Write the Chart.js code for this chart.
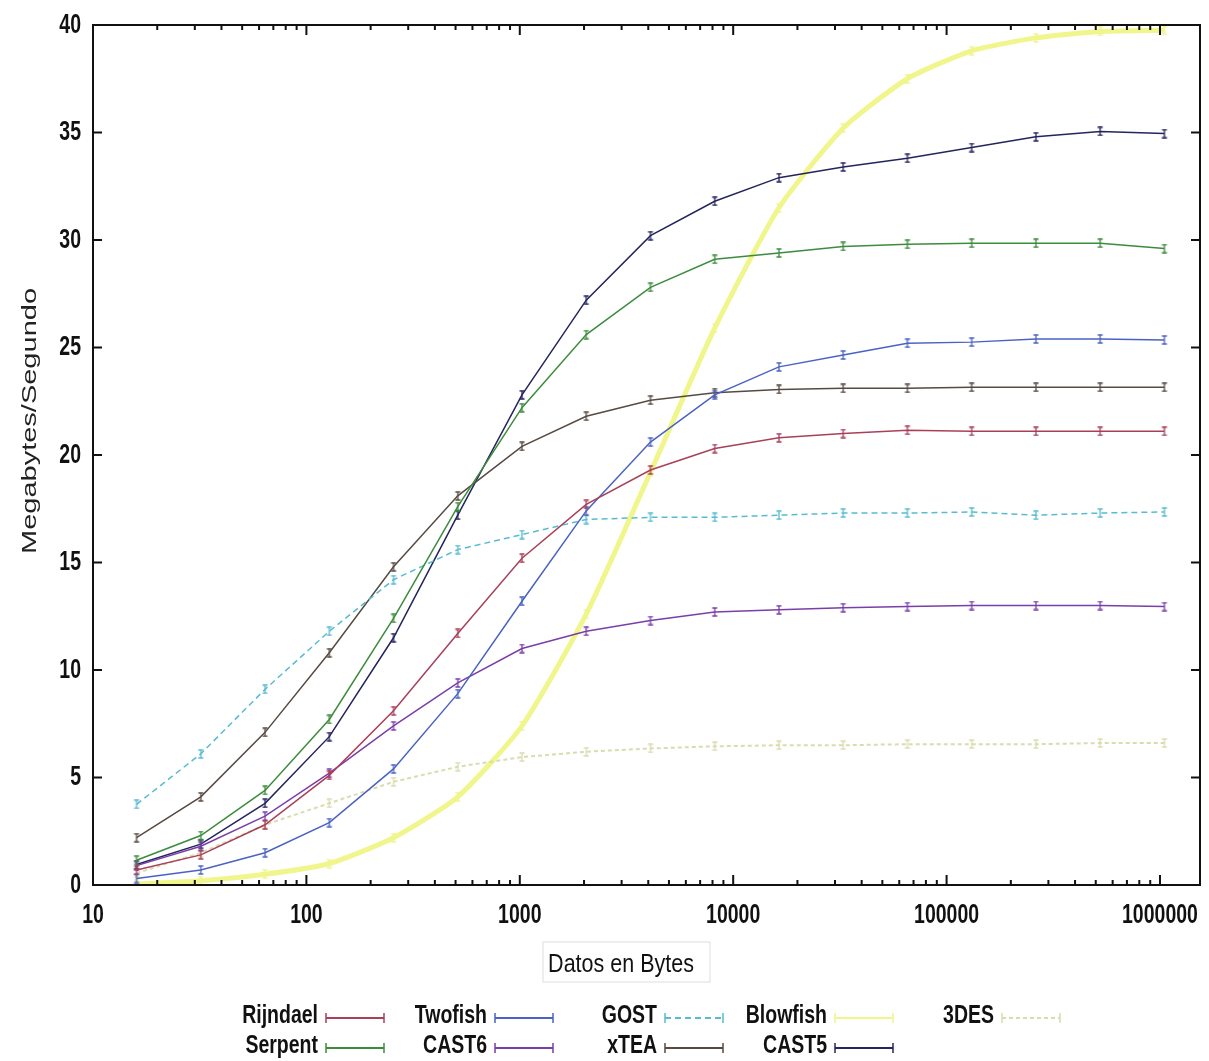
<!DOCTYPE html>
<html>
<head>
<meta charset="utf-8">
<script src="https://cdn.jsdelivr.net/npm/chart.js@4/dist/chart.umd.min.js"></script>
<style>
  html, body { margin: 0; padding: 0; background: #fff; }
  #chart { display: block; }
</style>
</head>
<body>
<canvas id="chart" width="1209" height="1061"></canvas>
<script>
// tamaño de los datos (bytes) y throughput en MB/s
var sizes = [16, 32, 64, 128, 256, 512, 1024, 2048, 4096, 8192, 16384, 32768, 65536, 131072, 262144, 524288, 1048576];
var xTicks = [10, 100, 1000, 10000, 100000, 1000000];

var rijndael = [0.7, 1.4, 2.8, 5.1, 8.1, 11.7, 15.2, 17.7, 19.3, 20.3, 20.8, 21.0, 21.15, 21.1, 21.1, 21.1, 21.1];
var serpent  = [1.15, 2.3, 4.4, 7.7, 12.4, 17.6, 22.2, 25.6, 27.8, 29.1, 29.4, 29.7, 29.8, 29.85, 29.85, 29.85, 29.6];
var twofish  = [0.3, 0.7, 1.5, 2.9, 5.4, 8.9, 13.2, 17.4, 20.6, 22.8, 24.1, 24.65, 25.2, 25.25, 25.4, 25.4, 25.35];
var cast6    = [0.9, 1.8, 3.2, 5.2, 7.4, 9.4, 11.0, 11.8, 12.3, 12.7, 12.8, 12.9, 12.95, 13.0, 13.0, 13.0, 12.95];
var gost     = [3.75, 6.1, 9.1, 11.8, 14.2, 15.6, 16.3, 17.0, 17.1, 17.1, 17.2, 17.3, 17.3, 17.35, 17.2, 17.3, 17.35];
var xtea     = [2.2, 4.1, 7.1, 10.8, 14.8, 18.1, 20.4, 21.8, 22.55, 22.9, 23.05, 23.1, 23.1, 23.15, 23.15, 23.15, 23.15];
var blowfish = [0.05, 0.2, 0.5, 1.0, 2.2, 4.1, 7.4, 12.6, 19.2, 25.9, 31.5, 35.2, 37.5, 38.8, 39.4, 39.7, 39.75];
var cast5    = [0.95, 1.9, 3.8, 6.9, 11.5, 17.2, 22.8, 27.2, 30.2, 31.8, 32.9, 33.4, 33.8, 34.3, 34.8, 35.05, 34.95];
var des3     = [0.55, 1.5, 2.8, 3.8, 4.8, 5.5, 5.95, 6.2, 6.35, 6.45, 6.5, 6.5, 6.55, 6.55, 6.55, 6.6, 6.6];

var SANS = "'Liberation Sans', Arial, sans-serif";

// marcador tipo barra de error "I"
function errGlyph(color){
  var c = document.createElement('canvas');
  c.width = 8; c.height = 10;
  var g = c.getContext('2d');
  g.strokeStyle = color;
  g.lineWidth = 1.3;
  g.beginPath();
  g.moveTo(4, 1); g.lineTo(4, 9);
  g.moveTo(1.5, 1); g.lineTo(6.5, 1);
  g.moveTo(1.5, 9); g.lineTo(6.5, 9);
  g.stroke();
  return c;
}

function serie(label, values, color, width, dash, order, tension){
  return {
    label: label,
    data: values.map(function(v, i){ return {x: sizes[i], y: v}; }),
    borderColor: color,
    backgroundColor: color,
    borderWidth: width,
    borderDash: dash,
    pointStyle: errGlyph(color),
    pointRadius: 4,
    tension: tension || 0,
    fill: false,
    order: order || 0
  };
}

var datasets = [
  serie('Rijndael', rijndael, '#a8405a', 1.5, []),
  serie('Serpent', serpent, '#3c8c3c', 1.5, []),
  serie('Twofish', twofish, '#4a62c4', 1.5, []),
  serie('CAST6', cast6, '#7a3ea8', 1.5, []),
  serie('GOST', gost, '#58bcd0', 1.5, [6, 4]),
  serie('xTEA', xtea, '#574a42', 1.5, []),
  serie('Blowfish', blowfish, '#f0f58c', 5, [], 2, 0.2),
  serie('CAST5', cast5, '#24245e', 1.5, []),
  serie('3DES', des3, '#dadcae', 2, [4, 3], 1)
];

// texto estirado en vertical como en la imagen original
function stretchedText(ctx, text, x, y, sy){
  ctx.save();
  ctx.translate(x, y);
  ctx.scale(1, sy);
  ctx.fillText(text, 0, 0);
  ctx.restore();
}

// marco, ticks hacia dentro, etiquetas, titulos y leyenda estilo gnuplot
var gnuplotFrame = {
  id: 'gnuplotFrame',
  afterDraw: function(chart){
    var ctx = chart.ctx, a = chart.chartArea;
    var xs = chart.scales.x, ys = chart.scales.y;
    ctx.save();
    ctx.strokeStyle = '#111';
    ctx.lineWidth = 2;
    ctx.strokeRect(a.left, a.top, a.right - a.left, a.bottom - a.top);

    ctx.beginPath();
    ys.ticks.forEach(function(t){
      var py = ys.getPixelForValue(t.value);
      ctx.moveTo(a.left, py); ctx.lineTo(a.left + 9, py);
      ctx.moveTo(a.right, py); ctx.lineTo(a.right - 9, py);
    });
    for (var d = 10; d <= 1000000; d *= 10) {
      for (var m = 1; m <= 9; m++) {
        var val = d * m;
        if (val > xs.max) break;
        var px = xs.getPixelForValue(val);
        var len = (m === 1) ? 10 : 5;
        ctx.moveTo(px, a.bottom); ctx.lineTo(px, a.bottom - len);
        ctx.moveTo(px, a.top); ctx.lineTo(px, a.top + len);
      }
    }
    ctx.stroke();

    // etiquetas de los ejes
    ctx.fillStyle = '#111';
    ctx.font = "bold 19.5px " + SANS;
    ctx.textBaseline = 'middle';
    ctx.textAlign = 'center';
    xs.ticks.forEach(function(t){
      stretchedText(ctx, String(t.value), xs.getPixelForValue(t.value), a.bottom + 30, 1.45);
    });
    ctx.textAlign = 'right';
    ys.ticks.forEach(function(t){
      stretchedText(ctx, String(t.value), 81, ys.getPixelForValue(t.value), 1.45);
    });

    // titulo eje y
    ctx.fillStyle = '#222';
    ctx.save();
    ctx.translate(30, 421);
    ctx.rotate(-Math.PI / 2);
    ctx.scale(1.45, 1);
    ctx.font = "20px " + SANS;
    ctx.textAlign = 'center';
    ctx.textBaseline = 'middle';
    ctx.fillText('Megabytes/Segundo', 0, 0);
    ctx.restore();

    // titulo eje x con su recuadro
    ctx.strokeStyle = '#dedede';
    ctx.lineWidth = 1;
    ctx.strokeRect(543, 942, 167, 40);
    ctx.font = "21.5px " + SANS;
    ctx.textAlign = 'center';
    ctx.textBaseline = 'middle';
    ctx.fillStyle = '#111';
    stretchedText(ctx, 'Datos en Bytes', 621, 965, 1.2);

    // leyenda: 2 filas, texto a la izquierda, muestra a la derecha
    var cols = [318, 487, 657, 827, 994];
    var rows = [1016, 1046];
    ctx.font = "bold 19.5px " + SANS;
    ctx.textAlign = 'right';
    chart.data.datasets.forEach(function(ds, i){
      var x = cols[Math.floor(i / 2)], y = rows[i % 2];
      ctx.fillStyle = '#111';
      stretchedText(ctx, ds.label, x, y, 1.3);
      var x0 = x + 8, x1 = x + 66, ly = y + 2;
      ctx.strokeStyle = ds.borderColor;
      ctx.lineWidth = 2;
      ctx.setLineDash(ds.borderDash);
      ctx.beginPath();
      ctx.moveTo(x0, ly); ctx.lineTo(x1, ly);
      ctx.stroke();
      ctx.setLineDash([]);
      ctx.lineWidth = 1.5;
      ctx.beginPath();
      ctx.moveTo(x0, ly - 5); ctx.lineTo(x0, ly + 5);
      ctx.moveTo(x1, ly - 5); ctx.lineTo(x1, ly + 5);
      ctx.stroke();
    });
    ctx.restore();
  }
};

var ctx = document.getElementById('chart').getContext('2d');
var myChart = new Chart(ctx, {
  type: 'line',
  data: { datasets: datasets },
  options: {
    responsive: false,
    animation: false,
    layout: { padding: { top: 25, right: 9, left: 0, bottom: 0 } },
    plugins: {
      legend: { display: false },
      tooltip: { enabled: false }
    },
    scales: {
      x: {
        type: 'logarithmic',
        min: 10,
        max: 1540000,
        grid: { display: false, drawTicks: false },
        border: { display: false },
        afterBuildTicks: function(scale){
          scale.ticks = xTicks.map(function(v){ return {value: v}; });
        },
        afterFit: function(scale){ scale.height = 176; },
        ticks: { display: false, autoSkip: false }
      },
      y: {
        min: 0,
        max: 40,
        grid: { display: false, drawTicks: false },
        border: { display: false },
        afterFit: function(scale){ scale.width = 93; },
        ticks: { display: false, stepSize: 5 }
      }
    }
  },
  plugins: [gnuplotFrame]
});
</script>
</body>
</html>
